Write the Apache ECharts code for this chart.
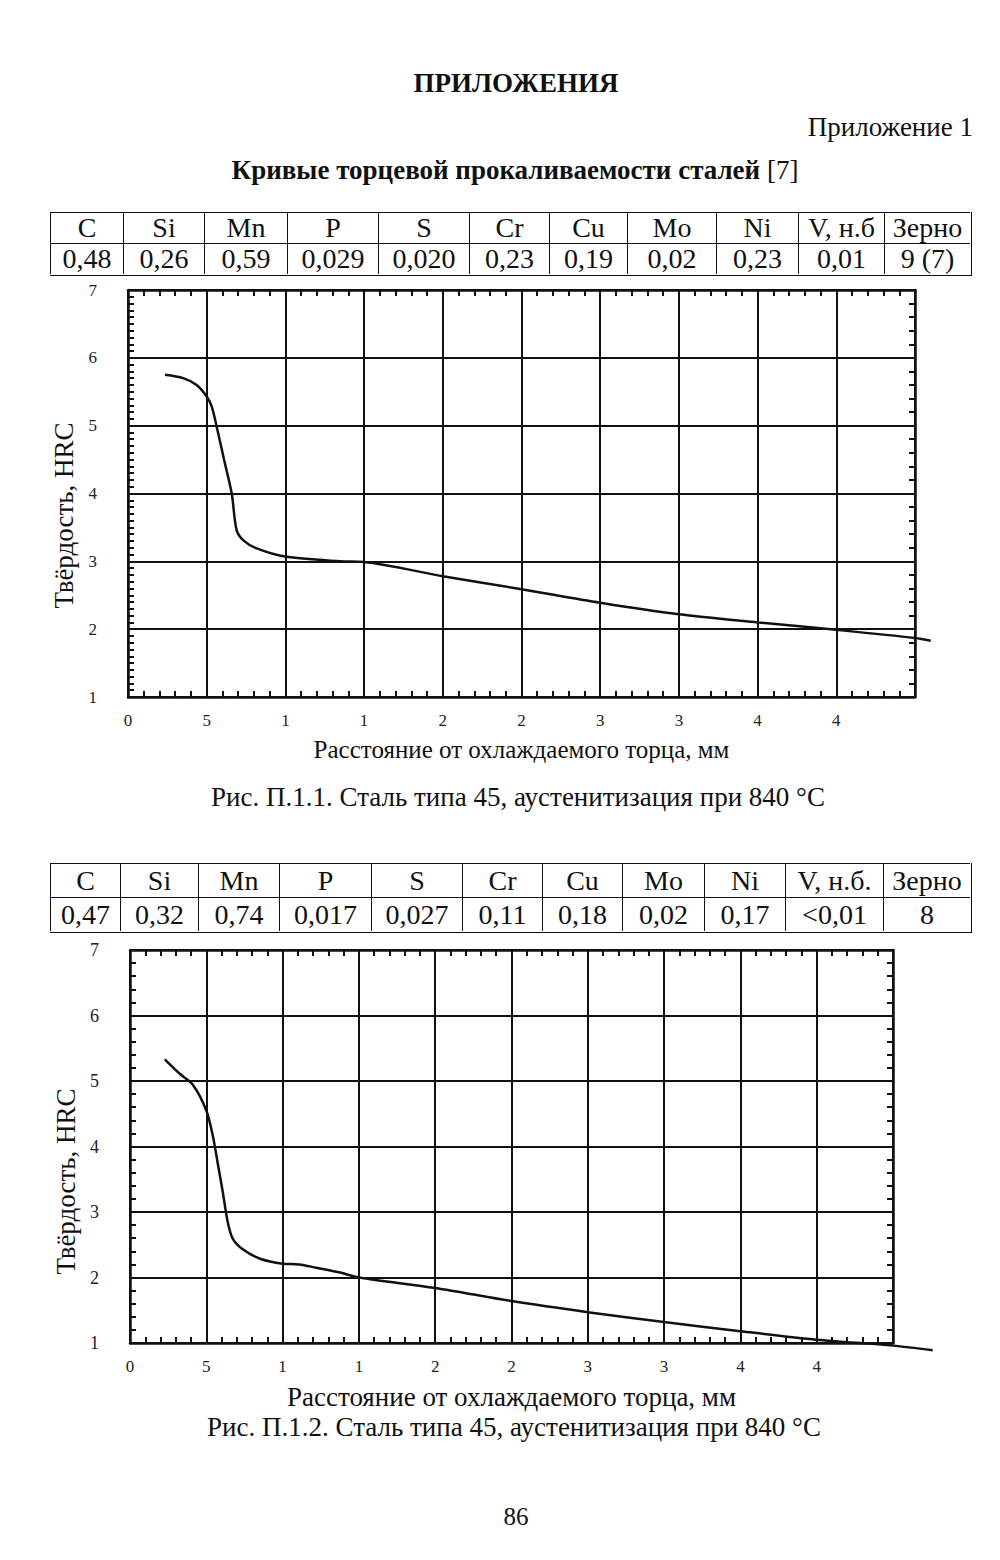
<!DOCTYPE html>
<html><head><meta charset="utf-8">
<script src="https://cdn.jsdelivr.net/npm/echarts@6/dist/echarts.min.js"></script>
<style>
html,body{margin:0;padding:0;background:#fff;}
#page{position:relative;width:1000px;height:1560px;font-family:"Liberation Serif","Times New Roman",serif;color:#111;overflow:hidden;}
#chart{position:absolute;left:0;top:0;width:1000px;height:1560px;}
.t{position:absolute;white-space:nowrap;transform:translate(-50%,-50%);line-height:1;}
.cell{position:absolute;box-sizing:border-box;border-left:1.8px solid #111;border-top:1.8px solid #111;text-align:center;font-size:28px;display:flex;align-items:center;justify-content:center;line-height:1;}
.tbl{position:absolute;box-sizing:border-box;border-right:1.8px solid #111;border-bottom:1.8px solid #111;}
</style></head>
<body><div id="page"><div id="chart"></div></div>
<script>
// ---------- data ----------
const elements1 = ['C','Si','Mn','P','S','Cr','Cu','Mo','Ni','V, н.б','Зерно'];
const contents1 = ['0,48','0,26','0,59','0,029','0,020','0,23','0,19','0,02','0,23','0,01','9 (7)'];
const elements2 = ['C','Si','Mn','P','S','Cr','Cu','Mo','Ni','V, н.б.','Зерно'];
const contents2 = ['0,47','0,32','0,74','0,017','0,027','0,11','0,18','0,02','0,17','<0,01','8'];

const xTickLabels = ['0','5','1','1','2','2','3','3','4','4',''];
const yTickLabels = ['1','2','3','4','5','6','7'];

const distance1 = [2.35,3.5,4.36,5.0,5.32,5.64,6.1,6.59,6.9,7.33,8.18,9.97,13.47,15,20,25,30,35,40,45,50,51];
const hardness1 = [5.75,5.70,5.60,5.43,5.28,4.98,4.5,4.0,3.46,3.31,3.19,3.07,3.0,2.99,2.78,2.59,2.39,2.22,2.1,1.99,1.87,1.83];

const distance2 = [2.28,3.26,4.13,5.0,5.43,5.76,6.09,6.41,6.74,7.39,8.48,10,11.1,12.2,13.7,15,20,25,30,35,40,45,50,52.6];
const hardness2 = [5.33,5.11,4.94,4.55,4.16,3.73,3.29,2.84,2.59,2.43,2.29,2.21,2.2,2.15,2.08,2.0,1.84,1.64,1.47,1.32,1.18,1.05,0.96,0.89];

// ---------- page texts ----------
const page = document.getElementById('page');
function txt(s, cx, cy, size, bold, extra) {
  const d = document.createElement('div');
  d.className = 't';
  d.style.left = cx + 'px'; d.style.top = cy + 'px';
  d.style.fontSize = size + 'px';
  if (bold) d.style.fontWeight = 'bold';
  if (extra) Object.assign(d.style, extra);
  d.innerHTML = s;
  page.appendChild(d);
  return d;
}
txt('ПРИЛОЖЕНИЯ', 516, 83, 27, true);
txt('Приложение 1', 973, 127, 27, false, {transform:'translate(-100%,-50%)'});
txt('Кривые торцевой прокаливаемости сталей <span style="font-weight:normal">[7]</span>', 515, 170, 27, true);
txt('Рис. П.1.1. Сталь типа 45, аустенитизация при 840 °C', 518, 797, 27, false);
txt('Рис. П.1.2. Сталь типа 45, аустенитизация при 840 °C', 514, 1427, 27, false);
txt('86', 516, 1516, 25, false);

function table(cols, rowsY, heads, vals) {
  const w = document.createElement('div');
  w.className = 'tbl';
  w.style.left = cols[0] + 'px'; w.style.top = rowsY[0] + 'px';
  w.style.width = (cols[cols.length-1] - cols[0] + 1.8) + 'px';
  w.style.height = (rowsY[2] - rowsY[0] + 1.8) + 'px';
  page.appendChild(w);
  [heads, vals].forEach((row, r) => {
    row.forEach((s, i) => {
      const c = document.createElement('div');
      c.className = 'cell';
      c.style.left = cols[i] + 'px'; c.style.top = rowsY[r] + 'px';
      c.style.width = (cols[i+1] - cols[i]) + 'px';
      c.style.height = (rowsY[r+1] - rowsY[r]) + 'px';
      c.textContent = s;
      page.appendChild(c);
    });
  });
}
table([50,123,204,287,378,469,549,627,716,798,884,970], [212,243,274], elements1, contents1);
table([50,120,198,279,371,462,542,622,704,785,883,970], [863,897,931], elements2, contents2);

// ---------- chart ----------
const FONT = '"Liberation Serif","Times New Roman",serif';
const INK = '#111';
function xAxes(gi, nameGap, nameSize) {
  return [{
    gridIndex: gi, type: 'value', min: 0, max: 50, interval: 5, position: 'bottom',
    axisLine: {show: true, onZero: false, lineStyle: {color: INK, width: 2.5}},
    axisTick: {show: true, inside: true, length: 6, lineStyle: {color: INK, width: 2}},
    minorTick: {show: true, splitNumber: 5, length: 6, lineStyle: {color: INK, width: 2}},
    splitLine: {show: true, lineStyle: {color: INK, width: 2}},
    axisLabel: {margin: 15, fontSize: 17, color: '#222', fontFamily: FONT,
      formatter: v => xTickLabels[Math.round(v / 5)]},
    name: 'Расстояние от охлаждаемого торца, мм', nameLocation: 'middle', nameGap: nameGap,
    nameTextStyle: {fontSize: nameSize, color: INK, fontFamily: FONT}
  }, {
    gridIndex: gi, type: 'value', min: 0, max: 50, interval: 5, position: 'top',
    axisLine: {show: true, onZero: false, lineStyle: {color: INK, width: 2.5}},
    axisTick: {show: true, inside: true, length: 6, lineStyle: {color: INK, width: 2}},
    minorTick: {show: true, splitNumber: 5, length: 6, lineStyle: {color: INK, width: 2}},
    splitLine: {show: false}, axisLabel: {show: false}
  }];
}
function yAxes(gi, leftSplit, nameGap, shift, labelSize) {
  return [{
    gridIndex: gi, type: 'value', min: 1, max: 7, interval: 1, position: 'left',
    axisLine: {show: true, onZero: false, lineStyle: {color: INK, width: 2.5}},
    axisTick: {show: true, inside: true, length: 6, lineStyle: {color: INK, width: 2}},
    minorTick: {show: true, splitNumber: leftSplit, length: 6, lineStyle: {color: INK, width: 2}},
    splitLine: {show: true, lineStyle: {color: INK, width: 2}},
    axisLabel: {margin: 31, fontSize: labelSize, color: '#222', fontFamily: FONT,
      formatter: v => yTickLabels[Math.round(v - 1)]},
    name: 'Твёрдость, HRC', nameLocation: 'middle', nameGap: nameGap,
    nameTextStyle: {fontSize: 27, color: INK, fontFamily: FONT, padding: [0, shift, 0, 0]}
  }, {
    gridIndex: gi, type: 'value', min: 1, max: 7, interval: 1, position: 'right',
    axisLine: {show: true, onZero: false, lineStyle: {color: INK, width: 2.5}},
    axisTick: {show: true, inside: true, length: 6, lineStyle: {color: INK, width: 2}},
    minorTick: {show: true, splitNumber: 5, length: 6, lineStyle: {color: INK, width: 2}},
    splitLine: {show: false}, axisLabel: {show: false}
  }];
}
// hidden axes sharing the same scale as the visible frame, but with room past its edges
function hiddenX(gi, max) {
  return {gridIndex: gi, type: 'value', min: 0, max: max, show: false};
}
function hiddenY(gi, min) {
  return {gridIndex: gi, type: 'value', min: min, max: 7, show: false};
}
function zip(a, b) { return a.map((x, i) => [x, b[i]]); }

const G1 = {left: 128, top: 290, width: 787, height: 407};
const G2 = {left: 130, top: 950, width: 763, height: 393};
const XEXT = 55, YEXT = 0;   // extended extent of the hidden axes
function extend(g) {
  return {left: g.left, top: g.top, width: g.width * XEXT / 50, height: g.height * (7 - YEXT) / 6};
}

const chart = echarts.init(document.getElementById('chart'), null, {renderer: 'svg'});
chart.setOption({
  animation: false,
  backgroundColor: 'transparent',
  grid: [G1, G2, extend(G1), extend(G2)],
  xAxis: [...xAxes(0, 40, 25), ...xAxes(1, 40, 27), hiddenX(2, XEXT), hiddenX(3, XEXT)],
  yAxis: [...yAxes(0, 10, 42, 44, 17), ...yAxes(1, 5, 42, 70, 18), hiddenY(2, YEXT), hiddenY(3, YEXT)],
  series: [
    {type: 'line', xAxisIndex: 4, yAxisIndex: 4, data: zip(distance1, hardness1),
      smooth: 0.3, showSymbol: false, clip: false, lineStyle: {color: INK, width: 2.5}},
    {type: 'line', xAxisIndex: 5, yAxisIndex: 5, data: zip(distance2, hardness2),
      smooth: 0.3, showSymbol: false, clip: false, lineStyle: {color: INK, width: 2.5}}
  ]
});
</script>
</body></html>
